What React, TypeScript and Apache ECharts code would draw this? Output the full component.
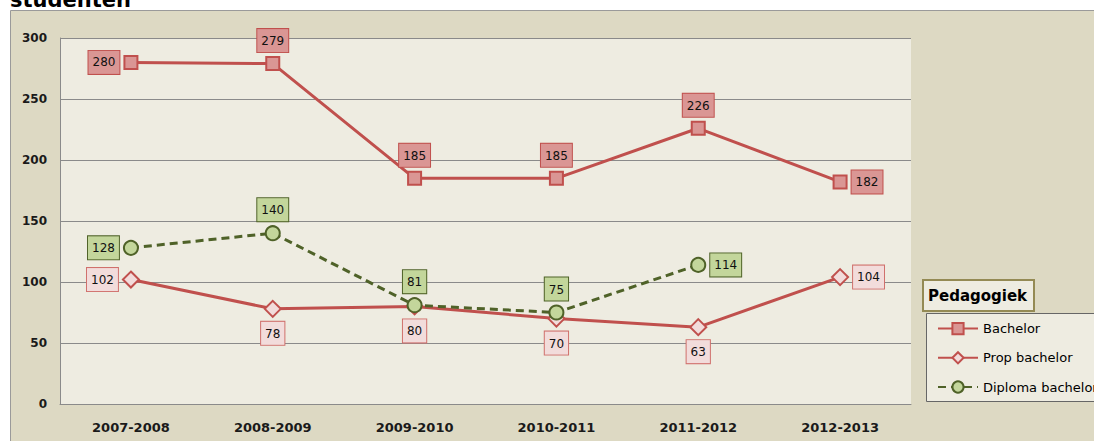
import React, { useEffect, useRef } from "react";
import * as echarts from "echarts";

const categories = ["2007-2008", "2008-2009", "2009-2010", "2010-2011", "2011-2012", "2012-2013"];
const bachelor = [280, 279, 185, 185, 226, 182];
const propBachelor = [102, 78, 80, 70, 63, 104];
const diplomaBachelor: (number | null)[] = [128, 140, 81, 75, 114, null];
const yTicks = [0, 50, 100, 150, 200, 250, 300];

const bachelorPos = ["left", "top", "top", "top", "top", "right"];
const propPos = ["left", "bottom", "bottom", "bottom", "bottom", "right"];
const diplomaPos = ["left", "top", "top", "top", "right", "right"];

const FONT = "DejaVu Sans";

function withPos(vals: (number | null)[], pos: string[]) {
  return vals.map((v, i) => ({ value: v, label: { position: pos[i] } }));
}

export default function App() {
  const ref = useRef<HTMLDivElement>(null);
  useEffect(() => {
    const chart = echarts.init(ref.current!, null, { renderer: "svg" });
    const lbl = (bg: string, border: string) => ({
      show: true,
      fontFamily: FONT,
      fontSize: 12,
      color: "#111",
      backgroundColor: bg,
      borderColor: border,
      borderWidth: 1,
      padding: [6, 4, 5, 4],
      distance: 4,
    });
    chart.setOption({
      animation: false,
      backgroundColor: "#ffffff",
      graphic: [
        {
          type: "rect",
          z: -10,
          shape: { x: 10.5, y: 10.5, width: 1100, height: 450 },
          style: { fill: "#DDD9C3", stroke: "#9a9a9a", lineWidth: 1 },
          silent: true,
        },
        {
          type: "text",
          x: 10,
          y: 10,
          style: {
            text: "studenten",
            font: `bold 21px "${FONT}"`,
            fill: "#000",
            textVerticalAlign: "bottom",
          },
        },
        {
          type: "rect",
          z: 1,
          shape: { x: 926.5, y: 313.5, width: 200, height: 88 },
          style: { fill: "#EEECE1", stroke: "#666", lineWidth: 1 },
          silent: true,
        },
        {
          type: "rect",
          z: 1,
          shape: { x: 923, y: 280, width: 111, height: 31 },
          style: { fill: "#EEECE1", stroke: "#948A54", lineWidth: 2 },
          silent: true,
        },
        {
          type: "text",
          z: 2,
          x: 928,
          y: 296,
          style: {
            text: "Pedagogiek",
            font: `bold 15px "${FONT}"`,
            fill: "#000",
            textVerticalAlign: "middle",
          },
        },
      ],
      grid: {
        left: 60,
        top: 38,
        width: 851,
        height: 366,
        show: true,
        backgroundColor: "#EEECE1",
        borderWidth: 0,
      },
      legend: {
        orient: "vertical",
        left: 932,
        top: 317,
        itemWidth: 40,
        itemHeight: 14,
        itemGap: 16,
        z: 5,
        textStyle: { fontFamily: FONT, fontSize: 13, color: "#000" },
        data: ["Bachelor", "Prop bachelor", "Diploma bachelor"],
      },
      xAxis: {
        type: "category",
        data: categories,
        boundaryGap: true,
        axisLine: { show: true, lineStyle: { color: "#8a8a8a", width: 1 } },
        axisTick: { show: false },
        axisLabel: {
          fontFamily: FONT,
          fontWeight: "bold",
          fontSize: 13,
          color: "#1a1a1a",
          margin: 17,
        },
      },
      yAxis: {
        type: "value",
        min: 0,
        max: 300,
        interval: 50,
        axisLine: { show: true, lineStyle: { color: "#8a8a8a", width: 1 } },
        axisTick: { show: false },
        splitLine: { show: true, lineStyle: { color: "#8a8a8a", width: 1 } },
        axisLabel: {
          fontFamily: FONT,
          fontWeight: "bold",
          fontSize: 12,
          color: "#1a1a1a",
          margin: 13,
          formatter: (v: number) => (yTicks.includes(v) ? String(v) : ""),
        },
      },
      series: [
        {
          name: "Bachelor",
          type: "line",
          data: withPos(bachelor, bachelorPos),
          symbol: "rect",
          symbolSize: 13,
          lineStyle: { color: "#C0504D", width: 3 },
          itemStyle: { color: "#DA9694", borderColor: "#C0504D", borderWidth: 2 },
          label: lbl("#DA9694", "#C0504D"),
          z: 4,
        },
        {
          name: "Prop bachelor",
          type: "line",
          data: withPos(propBachelor, propPos),
          symbol: "diamond",
          symbolSize: 16,
          lineStyle: { color: "#C0504D", width: 3 },
          itemStyle: { color: "#F2DCDB", borderColor: "#C0504D", borderWidth: 2 },
          label: lbl("#F2DCDB", "#D0706C"),
          z: 3,
        },
        {
          name: "Diploma bachelor",
          type: "line",
          data: withPos(diplomaBachelor, diplomaPos),
          symbol: "circle",
          symbolSize: 14,
          connectNulls: false,
          lineStyle: { color: "#4F6228", width: 3, type: [8, 5] },
          itemStyle: { color: "#C3D69B", borderColor: "#4F6228", borderWidth: 2 },
          label: lbl("#C3D69B", "#4F6228"),
          z: 5,
        },
      ],
    });
    return () => chart.dispose();
  }, []);
  return (
    <div
      ref={ref}
      style={{ position: "fixed", left: 0, top: 0, width: 1094, height: 441 }}
    />
  );
}
